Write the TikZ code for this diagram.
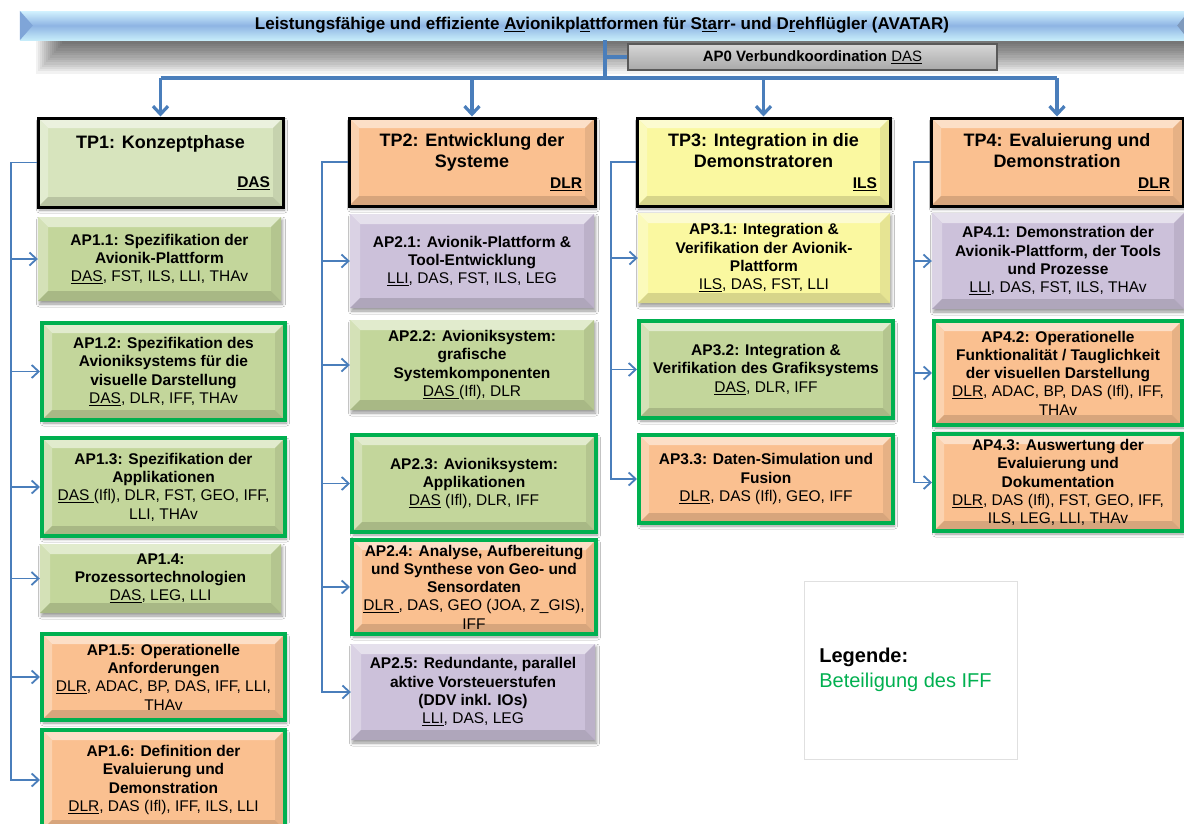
\documentclass[tikz,border=0pt]{standalone}
\usepackage{fontspec}
\setmainfont{Liberation Sans}
\usetikzlibrary{arrows.meta,shadows.blur,calc}

\definecolor{cgreen}{HTML}{C3D69B}
\definecolor{ctpgreen}{HTML}{D7E4BD}
\definecolor{corange}{HTML}{FAC090}
\definecolor{cpurple}{HTML}{CCC1DA}
\definecolor{cyellow}{HTML}{FAF8A0}
\definecolor{iff}{HTML}{00B050}
\definecolor{conn}{HTML}{4A7EBB}
\definecolor{banTop}{HTML}{D2F2FF}
\definecolor{banMid}{HTML}{8EB4E3}
\definecolor{banBot}{HTML}{C6ECFA}
\definecolor{banTip}{HTML}{7FA5D8}

\newsavebox{\ulbox}
\newcommand{\uln}[1]{\sbox{\ulbox}{#1}\rlap{\rule[-2.4pt]{\wd\ulbox}{1.1pt}}\usebox{\ulbox}}
\newcommand{\apnode}[7]{\node[#6, minimum width={#4-#2}, minimum height={#5-#3}] (#1) at ({(#2+#4)/2},{(#3+#5)/2}) {#7};}
\newcommand{\tplead}[2]{{\fontsize{15.5}{18}\selectfont\makebox[#1pt][r]{\uln{#2}}}}

\tikzset{
  apbox/.style={rectangle, inner sep=1pt, align=center,
    font=\fontsize{15.5}{18.3}\selectfont,
    blur shadow={shadow xshift=1.5pt, shadow yshift=-3pt, shadow blur radius=3pt, shadow opacity=40}},
  bev/.style={fill=#1, path picture={
    \path (path picture bounding box.north west) coordinate (pnw)
          (path picture bounding box.north east) coordinate (pne)
          (path picture bounding box.south west) coordinate (psw)
          (path picture bounding box.south east) coordinate (pse);
    \fill[#1!50!white] (pnw) -- (pne) -- ([xshift=-10pt,yshift=-10pt]pne) -- ([xshift=10pt,yshift=-10pt]pnw) -- cycle;
    \fill[#1!72!white] (pnw) -- ([xshift=10pt,yshift=-10pt]pnw) -- ([xshift=10pt,yshift=10pt]psw) -- (psw) -- cycle;
    \fill[#1!92!black] (pne) -- ([xshift=-10pt,yshift=-10pt]pne) -- ([xshift=-10pt,yshift=10pt]pse) -- (pse) -- cycle;
    \fill[#1!86!black] (psw) -- ([xshift=10pt,yshift=10pt]psw) -- ([xshift=-10pt,yshift=10pt]pse) -- (pse) -- cycle;
  }},
  iffb/.style={draw=iff, line width=4pt},
  tpbox/.style={apbox, draw=black, line width=3pt, font=\fontsize{18}{21}\selectfont\bfseries},
  bus/.style={draw=conn, line width=3.2pt},
  busarrow/.style={bus, -{Straight Barb[length=8pt,width=15pt]}},
  rail/.style={draw=conn, line width=1.8pt},
  railarrow/.style={rail, -{Straight Barb[length=7pt,width=13pt]}},
  banner/.style={rectangle, inner sep=0pt, top color=banTop, bottom color=banBot, middle color=banMid,
    font=\fontsize{17}{20}\selectfont\bfseries},
  ap0box/.style={rectangle, inner sep=0pt, top color=black!16, bottom color=black!34, draw=black!65,
    line width=1.5pt, font=\fontsize{15}{18}\selectfont\bfseries},
  legbox/.style={rectangle, draw=black!12, line width=0.8pt, fill=white, align=left,
    font=\fontsize{20}{25}\selectfont}
}

\begin{document}
\begin{tikzpicture}[x=1pt,y=-1pt]
\useasboundingbox (0,0) rectangle (1184,823);
\clip (0,0) rectangle (1184,823);
\fill[white] (0,0) rectangle (1184,823);

% banner shadow (soft, built from stacked translucent layers)
\foreach \i in {1,...,14}
  \fill[black, opacity=0.05] ({34+2*\i},40) rectangle (1184,{76-2.3*\i});

% banner
\node[banner, minimum width=1164, minimum height=29] (banner) at (602,25.5)
  {Leistungsfähige und effiziente \uln{Av}ionikpl\uln{a}ttformen für S\uln{ta}rr- und D\uln{r}ehflügler (AVATAR)};
\fill[banTip] (banner.north west) -- ([xshift=13pt]banner.west) -- (banner.south west) -- cycle;
\fill[banTip!70!gray] ([yshift=-6pt]banner.north east) -- ([xshift=-7pt]banner.east) -- ([yshift=6pt]banner.south east) -- cycle;

% AP0
\apnode{ap0}{628}{44}{997}{70}{ap0box}{AP0 Verbundkoordination {\mdseries\uln{DAS}}}

% TP boxes
\apnode{tp1}{38}{118}{283}{207}{tpbox, bev=ctpgreen}{TP1: Konzeptphase\\[18pt]\tplead{219}{DAS}}
\apnode{tp2}{349}{118}{595}{206}{tpbox, bev=corange}{TP2: Entwicklung der\\Systeme\\\tplead{220}{DLR}}
\apnode{tp3}{637}{118}{890}{206}{tpbox, bev=cyellow}{TP3: Integration in die\\Demonstratoren\\\tplead{227}{ILS}}
\apnode{tp4}{931}{118}{1183}{206}{tpbox, bev=corange}{TP4: Evaluierung und\\Demonstration\\\tplead{226}{DLR}}

% TP1 work packages
\apnode{ap11}{38}{217}{281}{301}{apbox, bev=cgreen}{\textbf{AP1.1: Spezifikation der}\\\textbf{Avionik-Plattform}\\\uln{DAS}, FST, ILS, LLI, THAv}
\apnode{ap12}{42}{323}{285}{420}{apbox, bev=cgreen, iffb}{\textbf{AP1.2: Spezifikation des}\\\textbf{Avioniksystems für die}\\\textbf{visuelle Darstellung}\\\uln{DAS}, DLR, IFF, THAv}
\apnode{ap13}{42}{438}{285}{536}{apbox, bev=cgreen, iffb}{\textbf{AP1.3: Spezifikation der}\\\textbf{Applikationen}\\\uln{DAS\ }(Ifl), DLR, FST, GEO, IFF,\\LLI, THAv}
\apnode{ap14}{40}{544}{281}{613}{apbox, bev=cgreen}{\textbf{AP1.4:}\\\textbf{Prozessortechnologien}\\\uln{DAS}, LEG, LLI}
\apnode{ap15}{42}{634}{285}{720}{apbox, bev=corange, iffb}{\textbf{AP1.5: Operationelle}\\\textbf{Anforderungen}\\\uln{DLR}, ADAC, BP, DAS, IFF, LLI,\\THAv}
\apnode{ap16}{42}{730}{285}{830}{apbox, bev=corange, iffb}{\textbf{AP1.6: Definition der}\\\textbf{Evaluierung und}\\\textbf{Demonstration}\\\uln{DLR}, DAS (Ifl), IFF, ILS, LLI}

% TP2 work packages
\apnode{ap21}{350}{214}{594}{308}{apbox, bev=cpurple}{\textbf{AP2.1: Avionik-Plattform \&}\\\textbf{Tool-Entwicklung}\\\uln{LLI}, DAS, FST, ILS, LEG}
\apnode{ap22}{350}{320}{594}{410}{apbox, bev=cgreen}{\textbf{AP2.2: Avioniksystem:}\\\textbf{grafische}\\\textbf{Systemkomponenten}\\\uln{DAS\ }(Ifl), DLR}
\apnode{ap23}{352}{435}{596}{532}{apbox, bev=cgreen, iffb}{\textbf{AP2.3: Avioniksystem:}\\\textbf{Applikationen}\\\uln{DAS} (Ifl), DLR, IFF}
\apnode{ap24}{352}{540}{596}{634}{apbox, bev=corange, iffb}{\textbf{AP2.4: Analyse, Aufbereitung}\\\textbf{und Synthese von Geo- und}\\\textbf{Sensordaten}\\\uln{DLR\ }, DAS, GEO (JOA, Z\_GIS),\\IFF}
\apnode{ap25}{351}{644}{595}{740}{apbox, bev=cpurple}{\textbf{AP2.5: Redundante, parallel}\\\textbf{aktive Vorsteuerstufen}\\\textbf{(DDV inkl. IOs)}\\\uln{LLI}, DAS, LEG}

% TP3 work packages
\apnode{ap31}{638}{213}{890}{303}{apbox, bev=cyellow}{\textbf{AP3.1: Integration \&}\\\textbf{Verifikation der Avionik-}\\\textbf{Plattform}\\\uln{ILS}, DAS, FST, LLI}
\apnode{ap32}{639}{321}{893}{418}{apbox, bev=cgreen, iffb}{\textbf{AP3.2: Integration \&}\\\textbf{Verifikation des Grafiksystems}\\\uln{DAS}, DLR, IFF}
\apnode{ap33}{639}{435}{893}{523}{apbox, bev=corange, iffb}{\textbf{AP3.3: Daten-Simulation und}\\\textbf{Fusion}\\\uln{DLR}, DAS (Ifl), GEO, IFF}

% TP4 work packages
\apnode{ap41}{932}{213}{1184}{309}{apbox, bev=cpurple}{\textbf{AP4.1: Demonstration der}\\\textbf{Avionik-Plattform, der Tools}\\\textbf{und Prozesse}\\\uln{LLI}, DAS, FST, ILS, THAv}
\apnode{ap42}{934}{321}{1182}{425}{apbox, bev=corange, iffb}{\textbf{AP4.2: Operationelle}\\\textbf{Funktionalität / Tauglichkeit}\\\textbf{der visuellen Darstellung}\\\uln{DLR}, ADAC, BP, DAS (Ifl), IFF,\\THAv}
\apnode{ap43}{934}{434}{1182}{531}{apbox, bev=corange, iffb}{\textbf{AP4.3: Auswertung der}\\\textbf{Evaluierung und}\\\textbf{Dokumentation}\\\uln{DLR}, DAS (Ifl), FST, GEO, IFF,\\ILS, LEG, LLI, THAv}

% legend
\apnode{legend}{804}{581}{1017}{759}{legbox}{\textbf{Legende:}\\\textcolor{iff}{Beteiligung des IFF}\hspace*{10pt}}

% top connectors
\coordinate (j) at (605,78);
\draw[bus] (banner.south -| j) -- (j);
\draw[bus] (j |- ap0.west) -- (ap0.west);
\draw[bus] (j -| tp1.north) -- (j -| tp4.north);
\foreach \t in {tp1,tp2,tp3,tp4} \draw[busarrow] (j -| \t.north) -- (\t.north);

% side rails
\coordinate (r1) at (11,0);
\coordinate (r2) at (322,0);
\coordinate (r3) at (611,0);
\coordinate (r4) at (914,0);
\draw[railarrow] (tp1.west) -- (tp1.west -| r1) |- (ap16.west);
\foreach \a in {ap11,ap12,ap13,ap14,ap15} \draw[railarrow] (r1 |- \a.west) -- (\a.west);
\draw[railarrow] (tp2.west) -- (tp2.west -| r2) |- (ap25.west);
\foreach \a in {ap21,ap22,ap23,ap24} \draw[railarrow] (r2 |- \a.west) -- (\a.west);
\draw[railarrow] (tp3.west) -- (tp3.west -| r3) |- (ap33.west);
\foreach \a in {ap31,ap32} \draw[railarrow] (r3 |- \a.west) -- (\a.west);
\draw[railarrow] (tp4.west) -- (tp4.west -| r4) |- (ap43.west);
\foreach \a in {ap41,ap42} \draw[railarrow] (r4 |- \a.west) -- (\a.west);
\end{tikzpicture}
\end{document}
